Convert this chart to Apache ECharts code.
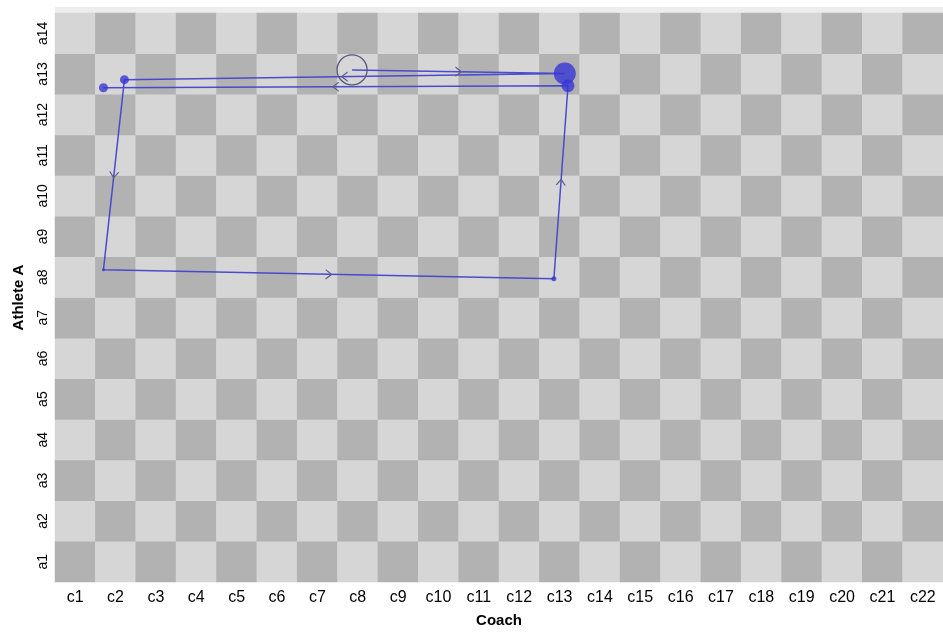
<!DOCTYPE html>
<html>
<head>
<meta charset="utf-8">
<script src="https://cdn.jsdelivr.net/npm/echarts@6/dist/echarts.min.js"></script>
<style>
  html, body { margin: 0; padding: 0; background: #ffffff; }
  #chart { width: 943px; height: 633px; }
</style>
</head>
<body>
<div id="chart"></div>
<script>
// Grid categories
const coachLevels = ['c1','c2','c3','c4','c5','c6','c7','c8','c9','c10','c11','c12','c13','c14','c15','c16','c17','c18','c19','c20','c21','c22'];
const athleteLevels = ['a1','a2','a3','a4','a5','a6','a7','a8','a9','a10','a11','a12','a13','a14'];

// Trajectory through the grid (1 = centre of c1 / a1), in visiting order
const pathCoach   = [7.86, 13.13, 2.22, 1.70, 12.86, 13.21, 1.70];
const pathAthlete = [13.10, 13.01, 12.86, 8.18, 7.96, 12.71, 12.66];
// Dot size for each visited state (duration)
const stateSize   = [30, 22, 9, 3, 5, 13, 9];

const DARK = '#b2b2b2';
const LIGHT = '#d6d6d6';
const FONT = 'Liberation Sans, Arial, sans-serif';

// Checkerboard cells
const cells = [];
for (let i = 0; i < coachLevels.length; i++) {
  for (let j = 0; j < athleteLevels.length; j++) {
    cells.push([i, j, (i + j) % 2]);
  }
}

const pathData = pathCoach.map((x, k) => {
  const item = { value: [x, pathAthlete[k]] };
  if (k === 0) {
    item.itemStyle = { color: 'rgba(0,0,0,0)', borderColor: '#56567a', borderWidth: 1.3, opacity: 1 };
  }
  return item;
});

const chart = echarts.init(document.getElementById('chart'), null, { renderer: 'canvas' });

const option = {
  animation: false,
  backgroundColor: '#ffffff',
  grid: { left: 55, right: -9, top: 13, bottom: 48, containLabel: false },
  graphic: [{
    type: 'rect', z: -1,
    shape: { x: 55, y: 7, width: 900, height: 6 },
    style: { fill: '#ededed' }
  }],
  xAxis: [{
    type: 'category',
    data: coachLevels,
    name: 'Coach',
    nameLocation: 'middle',
    nameGap: 31,
    nameTextStyle: { fontFamily: FONT, fontWeight: 'bold', fontSize: 15, color: '#000' },
    axisLine: { show: false },
    axisTick: { show: false },
    splitLine: { show: false },
    axisLabel: { fontFamily: FONT, fontSize: 16, color: '#000', margin: 8 }
  }, {
    type: 'value', min: 0.5, max: 22.5, show: false, splitLine: { show: false }
  }],
  yAxis: [{
    type: 'category',
    data: athleteLevels,
    name: 'Athlete A',
    nameLocation: 'middle',
    nameGap: 29,
    nameRotate: 90,
    nameTextStyle: { fontFamily: FONT, fontWeight: 'bold', fontSize: 15, color: '#000' },
    axisLine: { show: false },
    axisTick: { show: false },
    splitLine: { show: false },
    axisLabel: { fontFamily: FONT, fontSize: 14, color: '#000', rotate: 90, margin: 5 }
  }, {
    type: 'value', min: 0.5, max: 14.5, show: false, splitLine: { show: false }
  }],
  visualMap: {
    type: 'piecewise', show: false, seriesIndex: 0, dimension: 2,
    pieces: [{ value: 0, color: DARK }, { value: 1, color: LIGHT }]
  },
  series: [{
    type: 'heatmap',
    xAxisIndex: 0, yAxisIndex: 0,
    data: cells,
    itemStyle: { borderWidth: 0 },
    emphasis: { disabled: true },
    silent: true
  }, {
    type: 'line',
    xAxisIndex: 1, yAxisIndex: 1,
    data: pathData,
    symbol: 'circle',
    showSymbol: true,
    showAllSymbol: true,
    symbolSize: (v, p) => stateSize[p.dataIndex],
    lineStyle: { color: '#4343cc', width: 1.5, opacity: 0.95 },
    itemStyle: { color: 'rgba(52,52,215,0.78)' },
    z: 3,
    silent: true
  }]
};

chart.setOption(option);

// Direction chevrons at the middle of every step of the trajectory
const arrows = [];
for (let k = 0; k < pathCoach.length - 1; k++) {
  const a = chart.convertToPixel({ seriesIndex: 1 }, [pathCoach[k], pathAthlete[k]]);
  const b = chart.convertToPixel({ seriesIndex: 1 }, [pathCoach[k + 1], pathAthlete[k + 1]]);
  const angle = -Math.atan2(b[1] - a[1], b[0] - a[0]) * 180 / Math.PI;
  arrows.push({
    value: [(pathCoach[k] + pathCoach[k + 1]) / 2, (pathAthlete[k] + pathAthlete[k + 1]) / 2],
    symbolRotate: angle
  });
}

chart.setOption({
  series: [{}, {}, {
    type: 'scatter',
    xAxisIndex: 1, yAxisIndex: 1,
    data: arrows,
    symbol: 'path://M0,0L10,6L0,12',
    symbolSize: [6, 9],
    itemStyle: { color: 'rgba(0,0,0,0)', borderColor: '#5d5d8c', borderWidth: 1.1, opacity: 1 },
    z: 4,
    silent: true
  }]
});
</script>
</body>
</html>
